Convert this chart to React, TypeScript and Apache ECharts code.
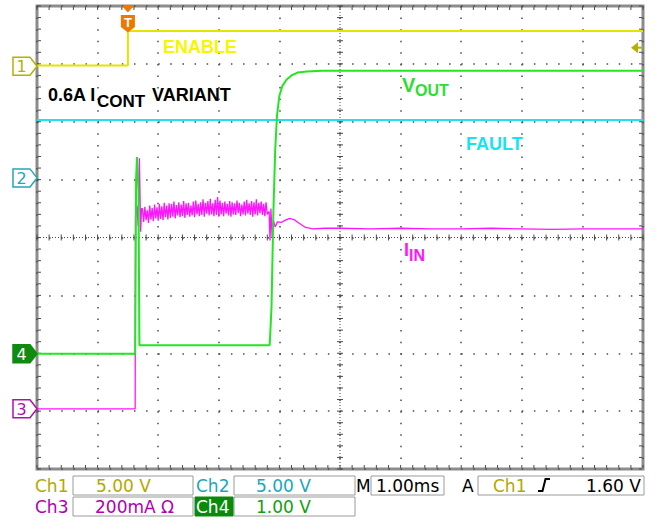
import React, { useEffect, useRef } from "react";
import * as echarts from "echarts";

// Horizontal: time in divisions (1.00 ms/div) from the left screen edge.
// Vertical: screen divisions, screen centre = 0 (top = +4, bottom = -4).
const enableTime = [0, 1.5, 1.5, 10];
const enableDiv = [2.97, 2.97, 3.57, 3.57];

const faultTime = [0, 10];
const faultDiv = [2.03, 2.03];

const voutTime = [0, 1.62, 1.635, 1.65, 1.675, 1.69, 3.84, 3.87, 3.9, 3.93, 3.96, 4.0, 4.05, 4.12, 4.2, 4.3, 4.45, 4.7, 10];
const voutDiv = [-2.01, -2.01, 1.0, 1.39, 0.8, -1.86, -1.86, -1.2, 0.4, 1.5, 2.1, 2.45, 2.62, 2.73, 2.8, 2.85, 2.87, 2.88, 2.88];

const iinTime = [
  0, 1.62, 1.625, 1.65, 1.67, 1.69, 1.71, 1.725,
  1.74, 1.76, 1.78, 1.8, 1.82, 1.84, 1.86, 1.88, 1.9, 1.92, 1.94, 1.96, 1.98, 2.0, 2.02, 2.04, 2.06, 2.08, 2.1, 2.12,
  2.14, 2.16, 2.18, 2.2,
  2.22, 2.24, 2.26, 2.28, 2.3, 2.32, 2.34, 2.36, 2.38, 2.4, 2.42, 2.44, 2.46, 2.48, 2.5, 2.52, 2.54, 2.56, 2.58, 2.6,
  2.62, 2.64, 2.66, 2.68, 2.7, 2.72, 2.74, 2.76, 2.78, 2.8, 2.82, 2.84, 2.86, 2.88, 2.9, 2.92, 2.94, 2.96, 2.98, 3.0,
  3.02, 3.04, 3.06, 3.08, 3.1, 3.12, 3.14, 3.16, 3.18, 3.2, 3.22, 3.24, 3.26, 3.28, 3.3, 3.32, 3.34, 3.36, 3.38, 3.4,
  3.42, 3.44, 3.46, 3.48, 3.5, 3.52, 3.54, 3.56, 3.58, 3.6, 3.62, 3.64, 3.66, 3.68, 3.7, 3.72, 3.74, 3.76, 3.78, 3.8,
  3.83, 3.845, 3.86, 3.88, 3.9, 3.93, 3.97, 4.03, 4.1, 4.17, 4.24, 4.32, 4.42, 4.55, 4.75, 5.0, 5.5, 6.0, 6.5, 7.0,
  7.5, 8.0, 8.5, 9.0, 9.5, 10,
];
const iinDiv = [
  -2.96, -2.96, 0.35, 0.55, 0.2, 1.37, 0.1, 0.5,
  0.5, 0.27, 0.53, 0.3, 0.47, 0.25, 0.55, 0.31, 0.51, 0.28, 0.57, 0.33, 0.52, 0.29, 0.58, 0.32, 0.54, 0.3, 0.6, 0.35,
  0.55, 0.31, 0.59, 0.34,
  0.58, 0.36, 0.62, 0.33, 0.56, 0.38, 0.61, 0.35, 0.57, 0.37, 0.63, 0.34, 0.59, 0.39, 0.6, 0.36, 0.55, 0.38, 0.62, 0.35,
  0.64, 0.4, 0.58, 0.37, 0.61, 0.39, 0.66, 0.36, 0.6, 0.41, 0.63, 0.38, 0.67, 0.4, 0.59, 0.37, 0.65, 0.39, 0.7, 0.36,
  0.64, 0.4, 0.6, 0.37, 0.62, 0.41, 0.58, 0.38, 0.63, 0.36, 0.61, 0.4, 0.59, 0.39, 0.64, 0.42, 0.6, 0.37, 0.57, 0.4,
  0.62, 0.38, 0.65, 0.41, 0.59, 0.39, 0.63, 0.36, 0.61, 0.4, 0.66, 0.38, 0.6, 0.42, 0.62, 0.39, 0.58, 0.37, 0.61, 0.4,
  0.45, -0.05, 0.5, 0.0, 0.3, 0.18, 0.27, 0.26, 0.3, 0.33, 0.31, 0.25, 0.18, 0.15, 0.16, 0.16, 0.15, 0.16, 0.15, 0.15,
  0.16, 0.15, 0.14, 0.15, 0.15, 0.15,
];

const groundLabels = ["1", "2", "3", "4"];
const groundDiv = [2.96, 1.03, -2.96, -2.01];
const triggerTime = 1.5;
const triggerLevelDiv = 3.28;

const pairs = (t: number[], v: number[]) => t.map((x, i) => [x, v[i]]);

const LABEL_FONT = '"Liberation Sans", Arial, sans-serif';
const STATUS_FONT = '"DejaVu Sans", sans-serif';

function txt(text: string, x: number, y: number, fill: string, size: number, weight = "normal", family = LABEL_FONT, align = "left") {
  return {
    type: "text",
    x,
    y,
    z: 100,
    style: {
      text,
      fill,
      fontSize: size,
      fontWeight: weight,
      fontFamily: family,
      align,
      textAlign: align,
      verticalAlign: "middle",
      textVerticalAlign: "middle",
    },
  };
}

function box(x: number, y: number, w: number, h: number, fill = "#ffffff", stroke = "#9a9a9a") {
  return { type: "rect", z: 90, shape: { x, y, width: w, height: h }, style: { fill, stroke, lineWidth: 1 } };
}

export default function App() {
  const ref = useRef<HTMLDivElement>(null);

  useEffect(() => {
    if (!ref.current) return;
    const chart = echarts.init(ref.current, undefined, { renderer: "svg" });

    const renderGraticule = (_params: any, api: any) => {
      const children: any[] = [];
      const stroke = "#4a4a4a";
      const seg = (x1: number, y1: number, x2: number, y2: number, dash?: number[]) =>
        children.push({
          type: "line",
          shape: { x1, y1, x2, y2 },
          style: { stroke, lineWidth: 1, lineDash: dash },
        });
      const c0 = api.coord([0, 0]);
      const c1 = api.coord([10, 0]);
      const v0 = api.coord([5, -4]);
      const v1 = api.coord([5, 4]);
      seg(c0[0], c0[1], c1[0], c1[1], [1, 2]);
      seg(v0[0], v0[1], v1[0], v1[1], [1, 2]);
      for (let i = 0; i <= 50; i++) {
        const x = i * 0.2;
        const top = api.coord([x, 4]);
        const bot = api.coord([x, -4]);
        const mid = api.coord([x, 0]);
        seg(top[0], top[1] + 1, top[0], top[1] + 4);
        seg(bot[0], bot[1] - 1, bot[0], bot[1] - 4);
        seg(mid[0], mid[1] - 3, mid[0], mid[1] + 3);
      }
      for (let j = 0; j <= 40; j++) {
        const y = -4 + j * 0.2;
        const l = api.coord([0, y]);
        const r = api.coord([10, y]);
        const m = api.coord([5, y]);
        seg(l[0] + 1, l[1], l[0] + 4, l[1]);
        seg(r[0] - 1, r[1], r[0] - 4, r[1]);
        seg(m[0] - 3, m[1], m[0] + 3, m[1]);
      }
      return { type: "group", children };
    };

    chart.setOption({
      animation: false,
      backgroundColor: "#ffffff",
      grid: {
        left: 37,
        top: 6,
        width: 606,
        height: 463,
        show: true,
        borderColor: "#8c8c8c",
        borderWidth: 3,
        backgroundColor: "transparent",
      },
      xAxis: {
        type: "value",
        min: 0,
        max: 10,
        interval: 1,
        axisLine: { show: false },
        axisTick: { show: false },
        axisLabel: { show: false },
        splitLine: { show: true, lineStyle: { color: "#4a4a4a", width: 1.5, type: [1.5, 10.075] } },
      },
      yAxis: {
        type: "value",
        min: -4,
        max: 4,
        interval: 1,
        axisLine: { show: false },
        axisTick: { show: false },
        axisLabel: { show: false },
        splitLine: { show: true, lineStyle: { color: "#4a4a4a", width: 1.5, type: [1.5, 10.62] } },
      },
      series: [
        { type: "custom", name: "graticule", renderItem: renderGraticule, data: [[0, 0]], silent: true, z: 1, clip: false },
        { type: "line", name: "ENABLE", data: pairs(enableTime, enableDiv), symbol: "none", z: 3, lineStyle: { color: "#e4e400", width: 2 } },
        { type: "line", name: "FAULT", data: pairs(faultTime, faultDiv), symbol: "none", z: 3, lineStyle: { color: "#1ee2f0", width: 2 } },
        { type: "line", name: "IIN", data: pairs(iinTime, iinDiv), symbol: "none", z: 4, lineStyle: { color: "#ff14ff", width: 1.3 } },
        { type: "line", name: "VOUT", data: pairs(voutTime, voutDiv), symbol: "none", z: 5, lineStyle: { color: "#22e622", width: 2 } },
      ],
    });

    const px = (x: number, y: number) => chart.convertToPixel({ gridIndex: 0 }, [x, y]) as number[];

    const markerStyles = [
      { fill: "#ffffff", stroke: "#b8b000", text: "#b8b000" },
      { fill: "#ffffff", stroke: "#20a8b8", text: "#20a8b8" },
      { fill: "#ffffff", stroke: "#b010b0", text: "#b010b0" },
      { fill: "#108a10", stroke: "#108a10", text: "#ffffff" },
    ];
    const graphics: any[] = [];
    groundLabels.forEach((lab, i) => {
      const y = px(0, groundDiv[i])[1];
      const st = markerStyles[i];
      graphics.push({
        type: "polygon",
        z: 95,
        shape: { points: [[13, y - 9], [30, y - 9], [37, y], [30, y + 9], [13, y + 9]] },
        style: { fill: st.fill, stroke: st.stroke, lineWidth: 1.5 },
      });
      graphics.push(txt(lab, 21.5, y + 0.5, st.text, 16, "normal", STATUS_FONT, "center"));
    });

    const tx = px(triggerTime, 0)[0];
    graphics.push({ type: "polygon", z: 95, shape: { points: [[tx - 6, 6], [tx + 6, 6], [tx, 12.5]] }, style: { fill: "#f07800" } });
    graphics.push({
      type: "polygon",
      z: 95,
      shape: { points: [[tx - 7, 15], [tx + 7, 15], [tx + 7, 27], [tx, 32.5], [tx - 7, 27]] },
      style: { fill: "#f07800" },
    });
    graphics.push(txt("T", tx, 22.5, "#ffffff", 13, "bold", LABEL_FONT, "center"));

    const ty = px(10, triggerLevelDiv)[1];
    graphics.push({ type: "polygon", z: 95, shape: { points: [[631, ty], [638, ty - 5.5], [638, ty + 5.5]] }, style: { fill: "#b8b000" } });
    graphics.push({ type: "line", z: 95, shape: { x1: 637, y1: ty, x2: 643, y2: ty }, style: { stroke: "#b8b000", lineWidth: 2 } });

    // Trace annotations
    graphics.push(txt("ENABLE", 163, 46.5, "#f6f600", 18, "bold"));
    graphics.push(txt("0.6A I", 48, 94.5, "#000000", 18, "bold"));
    graphics.push(txt("CONT", 97, 101, "#000000", 17, "bold"));
    graphics.push(txt("VARIANT", 152, 94.5, "#000000", 18, "bold"));
    graphics.push(txt("V", 402, 85, "#2ede2e", 20, "bold"));
    graphics.push(txt("OUT", 415, 90.5, "#2ede2e", 16, "bold"));
    graphics.push(txt("FAULT", 466, 144, "#14e4f4", 18, "bold"));
    graphics.push(txt("I", 404, 250, "#ff14ff", 18, "bold"));
    graphics.push(txt("IN", 409, 255, "#ff14ff", 16, "bold"));

    // Status bar
    const r1 = 485.5;
    const r2 = 507;
    graphics.push(box(73, 476, 120, 19), box(234, 476, 121, 19), box(371, 476, 73, 19), box(478, 476, 166, 19));
    graphics.push(box(73, 497, 120, 19), box(234, 497, 121, 19));
    graphics.push(box(195, 497, 38, 19, "#0a8a0a", "#0a8a0a"));
    graphics.push(txt("Ch1", 35, r1, "#b3a900", 17, "normal", STATUS_FONT));
    graphics.push(txt("5.00 V", 96, r1, "#b3a900", 17, "normal", STATUS_FONT));
    graphics.push(txt("Ch2", 196, r1, "#18a8b8", 17, "normal", STATUS_FONT));
    graphics.push(txt("5.00 V", 256, r1, "#18a8b8", 17, "normal", STATUS_FONT));
    graphics.push(txt("M", 356, r1, "#000000", 17, "normal", STATUS_FONT));
    graphics.push(txt("1.00ms", 376, r1, "#000000", 17, "normal", STATUS_FONT));
    graphics.push(txt("A", 462, r1, "#000000", 17, "normal", STATUS_FONT));
    graphics.push(txt("Ch1", 493, r1, "#b3a900", 17, "normal", STATUS_FONT));
    graphics.push({
      type: "polyline",
      z: 100,
      shape: { points: [[538, 491], [542.5, 491], [545.5, 479], [550, 479]] },
      style: { stroke: "#000000", lineWidth: 2, fill: "none" },
    });
    graphics.push(txt("1.60 V", 586, r1, "#000000", 17, "normal", STATUS_FONT));
    graphics.push(txt("Ch3", 35, r2, "#b000b0", 17, "normal", STATUS_FONT));
    graphics.push(txt("200mA Ω", 95, r2, "#b000b0", 17, "normal", STATUS_FONT));
    graphics.push(txt("Ch4", 196, r2, "#ffffff", 17, "normal", STATUS_FONT));
    graphics.push(txt("1.00 V", 256, r2, "#10a010", 17, "normal", STATUS_FONT));

    chart.setOption({ graphic: graphics });

    return () => chart.dispose();
  }, []);

  return (
    <div
      ref={ref}
      style={{ position: "fixed", left: 0, top: 0, width: 662, height: 522, background: "#ffffff" }}
    />
  );
}
